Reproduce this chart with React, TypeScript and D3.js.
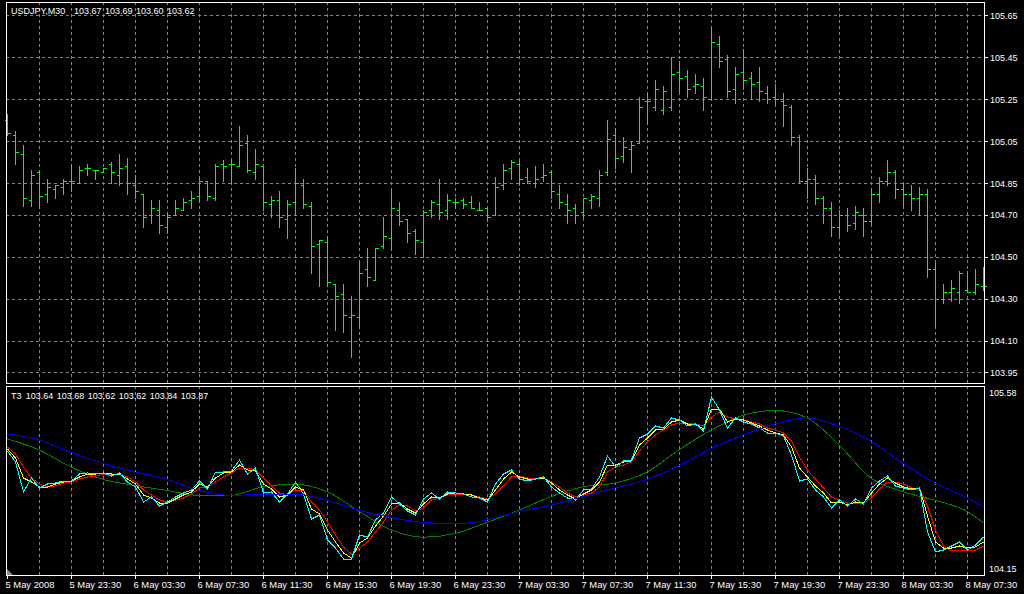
import React from "react";
import * as d3 from "d3";

// ---------- DATA ----------
const opens = [105.15,105.08,104.99,104.77,104.90,104.80,104.82,104.83,104.86,104.85,104.92,104.91,104.90,104.94,104.89,104.93,104.84,104.80,104.70,104.72,104.64,104.70,104.72,104.77,104.79,104.86,104.78,104.94,104.94,104.93,105.04,104.90,104.93,104.75,104.77,104.68,104.76,104.84,104.74,104.56,104.57,104.37,104.32,104.21,104.21,104.44,104.39,104.55,104.59,104.72,104.68,104.62,104.57,104.72,104.75,104.72,104.76,104.77,104.76,104.72,104.73,104.70,104.84,104.92,104.94,104.88,104.85,104.88,104.90,104.80,104.75,104.73,104.71,104.77,104.78,104.90,105.08,104.98,105.01,105.04,105.24,105.21,105.20,105.21,105.38,105.36,105.31,105.31,105.25,105.51,105.44,105.30,105.38,105.35,105.33,105.28,105.26,105.24,105.21,105.07,104.86,104.87,104.78,104.73,104.64,104.70,104.66,104.70,104.67,104.80,104.86,104.90,104.82,104.80,104.78,104.80,104.44,104.30,104.33,104.33,104.34,104.33,104.36];
const highs = [105.18,105.10,105.03,104.91,104.91,104.87,104.84,104.87,104.94,104.93,104.94,104.91,104.92,104.95,104.99,104.97,104.89,104.80,104.77,104.77,104.71,104.77,104.78,104.81,104.88,104.86,104.94,104.96,104.96,105.12,105.08,105.01,104.93,104.79,104.81,104.77,104.92,104.87,104.76,104.58,104.60,104.37,104.37,104.31,104.48,104.54,104.54,104.69,104.81,104.76,104.68,104.63,104.72,104.77,104.87,104.80,104.78,104.78,104.79,104.76,104.73,104.88,104.94,104.96,104.96,104.92,104.93,104.94,104.91,104.84,104.80,104.75,104.78,104.80,104.91,105.15,105.11,105.07,105.05,105.26,105.28,105.34,105.31,105.45,105.43,105.39,105.37,105.35,105.60,105.55,105.46,105.40,105.49,105.38,105.40,105.31,105.32,105.28,105.22,105.08,104.92,104.89,104.79,104.76,104.72,104.73,104.74,104.73,104.82,104.88,104.96,104.91,104.85,104.84,104.83,104.82,104.47,104.37,104.39,104.43,104.43,104.44,104.45];
const lows = [105.08,104.94,104.74,104.74,104.73,104.76,104.78,104.80,104.81,104.85,104.89,104.87,104.90,104.85,104.84,104.80,104.78,104.64,104.66,104.61,104.61,104.70,104.72,104.73,104.76,104.77,104.77,104.86,104.85,104.93,104.90,104.87,104.72,104.69,104.64,104.59,104.70,104.73,104.42,104.36,104.36,104.15,104.14,104.02,104.16,104.36,104.39,104.54,104.53,104.65,104.57,104.51,104.50,104.69,104.68,104.68,104.73,104.73,104.73,104.72,104.67,104.70,104.82,104.87,104.84,104.85,104.83,104.86,104.78,104.73,104.66,104.66,104.69,104.73,104.74,104.89,104.92,104.95,104.90,105.04,105.13,105.20,105.18,105.20,105.29,105.26,105.28,105.20,105.25,105.40,105.26,105.23,105.30,105.25,105.24,105.23,105.23,105.12,105.03,104.85,104.78,104.75,104.66,104.60,104.60,104.62,104.63,104.60,104.66,104.76,104.84,104.78,104.74,104.72,104.70,104.40,104.17,104.28,104.29,104.28,104.33,104.32,104.34];
const closes = [105.09,105.00,104.78,104.89,104.79,104.83,104.84,104.86,104.86,104.91,104.92,104.91,104.92,104.90,104.92,104.85,104.81,104.69,104.73,104.65,104.69,104.73,104.76,104.78,104.86,104.79,104.93,104.93,104.94,105.03,104.91,104.94,104.76,104.77,104.69,104.75,104.85,104.75,104.55,104.58,104.38,104.31,104.22,104.22,104.42,104.40,104.54,104.60,104.73,104.67,104.61,104.58,104.71,104.76,104.71,104.77,104.76,104.75,104.73,104.72,104.69,104.83,104.91,104.95,104.87,104.86,104.87,104.89,104.81,104.76,104.72,104.70,104.78,104.79,104.89,105.06,104.97,105.02,105.03,105.21,105.24,105.30,105.29,105.37,105.35,105.30,105.32,105.26,105.52,105.43,105.29,105.37,105.34,105.32,105.29,105.25,105.25,105.22,105.07,104.86,104.87,104.78,104.73,104.64,104.70,104.65,104.71,104.67,104.80,104.86,104.90,104.82,104.80,104.78,104.80,104.44,104.30,104.33,104.35,104.42,104.33,104.37,104.36];

const t3Cyan = [105.10,105.01,104.77,104.88,104.80,104.83,104.84,104.86,104.86,104.91,104.92,104.91,104.92,104.90,104.92,104.85,104.81,104.69,104.73,104.65,104.69,104.73,104.76,104.78,104.86,104.79,104.93,104.93,104.94,105.03,104.91,104.96,104.76,104.77,104.69,104.75,104.85,104.75,104.55,104.58,104.38,104.31,104.22,104.22,104.42,104.40,104.54,104.60,104.73,104.67,104.61,104.58,104.71,104.76,104.71,104.77,104.76,104.75,104.73,104.72,104.69,104.83,104.91,104.95,104.87,104.86,104.87,104.89,104.81,104.76,104.72,104.70,104.78,104.79,104.89,105.06,104.97,105.02,105.03,105.21,105.24,105.30,105.29,105.37,105.35,105.30,105.32,105.26,105.54,105.43,105.29,105.37,105.34,105.32,105.29,105.25,105.25,105.22,105.07,104.86,104.87,104.78,104.73,104.64,104.70,104.65,104.71,104.67,104.80,104.86,104.90,104.82,104.80,104.78,104.80,104.44,104.28,104.30,104.33,104.36,104.30,104.34,104.40];
const t3Yellow = [105.12,105.04,104.88,104.85,104.81,104.81,104.83,104.85,104.86,104.89,104.91,104.91,104.92,104.91,104.91,104.87,104.83,104.74,104.72,104.68,104.68,104.71,104.74,104.77,104.83,104.81,104.88,104.92,104.93,104.99,104.95,104.94,104.83,104.79,104.73,104.74,104.81,104.78,104.63,104.59,104.46,104.36,104.27,104.23,104.35,104.39,104.49,104.57,104.67,104.68,104.63,104.60,104.67,104.73,104.72,104.75,104.76,104.75,104.74,104.72,104.70,104.78,104.87,104.93,104.89,104.87,104.87,104.88,104.84,104.78,104.74,104.71,104.75,104.78,104.85,104.99,104.99,105.01,105.02,105.15,105.21,105.27,105.28,105.34,105.35,105.32,105.32,105.28,105.44,105.44,105.34,105.36,105.35,105.33,105.30,105.27,105.25,105.23,105.13,104.96,104.89,104.82,104.76,104.68,104.69,104.66,104.69,104.68,104.76,104.83,104.88,104.84,104.81,104.79,104.80,104.57,104.36,104.31,104.31,104.33,104.31,104.32,104.36];
const t3Red = [105.13,105.08,104.97,104.88,104.83,104.81,104.82,104.84,104.85,104.87,104.89,104.90,104.91,104.91,104.91,104.89,104.85,104.78,104.74,104.70,104.69,104.70,104.72,104.75,104.80,104.81,104.85,104.89,104.92,104.96,104.96,104.95,104.88,104.82,104.76,104.74,104.78,104.78,104.69,104.62,104.52,104.42,104.32,104.26,104.31,104.36,104.44,104.52,104.62,104.66,104.65,104.61,104.64,104.70,104.72,104.74,104.75,104.75,104.74,104.73,104.71,104.75,104.82,104.89,104.90,104.88,104.87,104.88,104.85,104.81,104.76,104.73,104.74,104.76,104.81,104.93,104.97,104.99,105.01,105.10,105.17,105.23,105.27,105.31,105.33,105.33,105.32,105.30,105.38,105.42,105.38,105.36,105.35,105.34,105.32,105.29,105.27,105.25,105.18,105.05,104.95,104.87,104.80,104.73,104.70,104.68,104.68,104.68,104.72,104.79,104.85,104.85,104.83,104.80,104.80,104.65,104.46,104.33,104.29,104.30,104.30,104.30,104.33];

const blueIdx = [0,4,8,12,16,20,24,28,32,36,40,44,48,52,56,60,64,68,72,76,80,84,88,92,96,100,104,108,112,116,120,122];
const blueVals = [105.24,105.19,105.09,105.00,104.93,104.87,104.78,104.74,104.75,104.75,104.70,104.62,104.56,104.52,104.51,104.54,104.61,104.66,104.73,104.80,104.87,104.98,105.12,105.23,105.32,105.37,105.30,105.18,105.00,104.84,104.72,104.65];
const greenIdx = [0,4,8,12,16,20,24,28,32,36,40,44,48,52,56,60,64,68,72,76,80,84,88,92,96,100,104,108,112,116,120,122];
const greenVals = [105.20,105.11,104.97,104.87,104.82,104.78,104.74,104.74,104.81,104.83,104.77,104.61,104.46,104.40,104.43,104.52,104.62,104.73,104.81,104.84,104.93,105.11,105.27,105.39,105.43,105.37,105.15,104.88,104.77,104.70,104.61,104.52];

const priceTicks = [105.65,105.45,105.25,105.05,104.85,104.70,104.50,104.30,104.10,103.95];
const lowerTicks = [105.58,104.15];
const timeLabels = ["5 May 2008","5 May 23:30","6 May 03:30","6 May 07:30","6 May 11:30","6 May 15:30","6 May 19:30","6 May 23:30","7 May 03:30","7 May 07:30","7 May 11:30","7 May 15:30","7 May 19:30","7 May 23:30","8 May 03:30","8 May 07:30"];
const headerParts = ["USDJPY,M30","103.67","103.69","103.60","103.62"];
const t3Parts = ["T3","103.64","103.68","103.62","103.62","103.84","103.87"];

// ---------- LAYOUT ----------
const W = 1024, H = 594;
const LX = 6, RX = 984;
const UP_T = 2, UP_B = 383, LO_T = 386, LO_B = 575;
const GRID = "#778899";
const FONT = "'Liberation Sans', Arial, sans-serif";

export default function App() {
  const n = closes.length;
  const x = d3.scaleLinear().domain([0, n - 1]).range([7, 983]);
  const yU = d3.scaleLinear().domain([103.95, 105.65]).range([372, 15]);
  const yL = d3.scaleLinear().domain([104.15, 105.58]).range([568, 392]);
  const px = (v: number) => Math.round(v) + 0.5;

  const line = d3.line<number>().x((_, i) => px(x(i))).y((d) => Math.round(yL(d)));
  const smooth = (idx: number[]) =>
    d3.line<number>().curve(d3.curveMonotoneX).x((_, i) => x(idx[i])).y((d) => yL(d));

  const vGrid = d3.range(4, n, 4);
  const timeIdx = d3.range(0, n, 8);

  return (
    <svg width={W} height={H} style={{ position: "absolute", left: 0, top: 0, display: "block", background: "#000" }}>
      <rect x={0} y={0} width={W} height={H} fill="#000" />
      {/* grid */}
      <g stroke={GRID} strokeWidth={1} strokeDasharray="3,3" shapeRendering="crispEdges">
        {priceTicks.map((t) => (
          <line key={"h" + t} x1={LX} x2={RX} y1={px(yU(t))} y2={px(yU(t))} />
        ))}
        {vGrid.map((i) => (
          <g key={"v" + i}>
            <line x1={px(x(i))} x2={px(x(i))} y1={UP_T} y2={UP_B} />
            <line x1={px(x(i))} x2={px(x(i))} y1={LO_T} y2={LO_B} />
          </g>
        ))}
      </g>
      {/* bars */}
      <g stroke="#00ff00" strokeWidth={1} shapeRendering="crispEdges">
        {closes.map((c, i) => {
          const xi = px(x(i));
          return (
            <g key={"b" + i}>
              <line x1={xi} x2={xi} y1={Math.round(yU(highs[i]))} y2={Math.round(yU(lows[i])) + 1} />
              <line x1={xi - 3} x2={xi} y1={px(yU(opens[i]))} y2={px(yU(opens[i]))} />
              <line x1={xi} x2={xi + 3} y1={px(yU(c))} y2={px(yU(c))} />
            </g>
          );
        })}
      </g>
      {/* lower pane lines */}
      <g fill="none" strokeWidth={1} shapeRendering="crispEdges">
        <path d={smooth(greenIdx)(greenVals) || ""} stroke="#008000" />
        <path d={line(t3Red) || ""} stroke="#ff0000" />
        <path d={line(t3Yellow) || ""} stroke="#ffff00" />
        <path d={line(t3Cyan) || ""} stroke="#00ffff" />
        <path d={smooth(blueIdx)(blueVals) || ""} stroke="#0000ff" />
      </g>
      {/* shift marker */}
      <polygon points={`${LX + 1},${LO_B - 6} ${LX + 1},${LO_B} ${LX + 7},${LO_B}`} fill="#8090a0" />
      {/* frames */}
      <g fill="none" stroke="#ffffff" strokeWidth={1} shapeRendering="crispEdges">
        <rect x={LX + 0.5} y={UP_T + 0.5} width={RX - LX} height={UP_B - UP_T} />
        <rect x={LX + 0.5} y={LO_T + 0.5} width={RX - LX} height={LO_B - LO_T} />
      </g>
      {/* right axis ticks */}
      <g stroke="#ffffff" strokeWidth={1} shapeRendering="crispEdges">
        {priceTicks.map((t) => (
          <line key={"rt" + t} x1={RX} x2={RX + 4} y1={px(yU(t))} y2={px(yU(t))} />
        ))}
        {timeIdx.map((i) => (
          <line key={"bt" + i} x1={px(x(i))} x2={px(x(i))} y1={LO_B} y2={LO_B + 4} />
        ))}
      </g>
      <g fill="#ffffff" fontFamily={FONT} fontSize={9}>
        {priceTicks.map((t) => (
          <text key={"rl" + t} x={990} y={yU(t) + 3.5}>{t.toFixed(2)}</text>
        ))}
        {lowerTicks.map((t) => (
          <text key={"ll" + t} x={989} y={yL(t) + 3.5}>{t.toFixed(2)}</text>
        ))}
        {headerParts.map((s, i) => (
          <text key={"hp" + i} x={i === 0 ? 11 : 74 + (i - 1) * 31} y={13.5}>{s}</text>
        ))}
        {t3Parts.map((s, i) => (
          <text key={"tp" + i} x={i === 0 ? 11 : 25.7 + (i - 1) * 31} y={398.5}>{s}</text>
        ))}
      </g>
      <g fill="#ffffff" fontFamily={FONT} fontSize={9.4}>
        {timeIdx.map((i, k) => (
          <text key={"tl" + i} x={x(i) - 1.5} y={587.5}>{timeLabels[k]}</text>
        ))}
      </g>
    </svg>
  );
}
